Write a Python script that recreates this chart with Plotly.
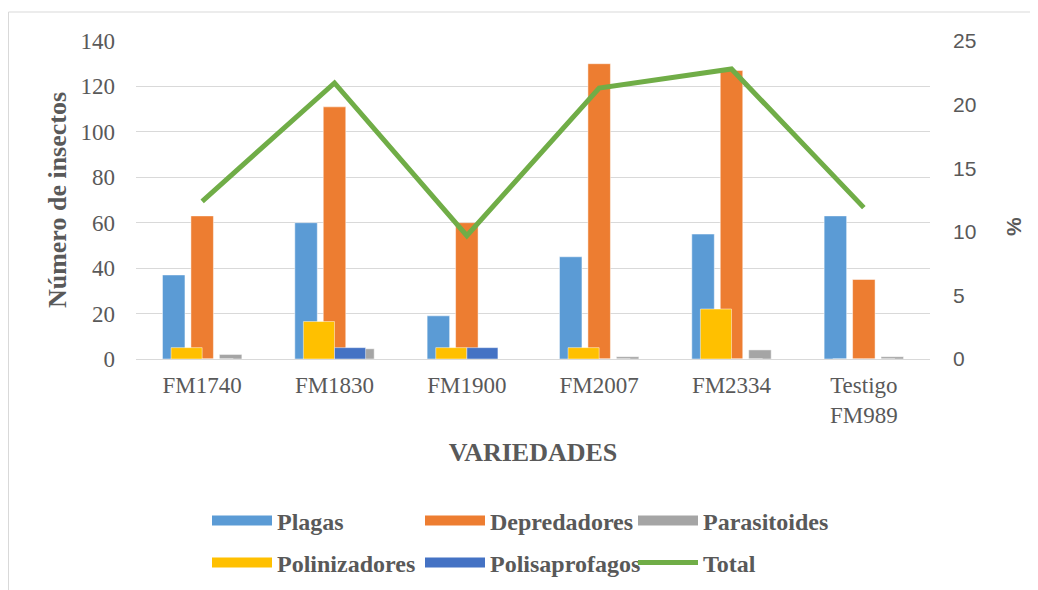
import plotly.graph_objects as go

categorias = ["FM1740", "FM1830", "FM1900", "FM2007", "FM2334", "Testigo<br>FM989"]
plagas = [37, 60, 19, 45, 55, 63]
depredadores = [63, 111, 60, 130, 127, 35]
parasitoides = [2, 4.5, 0, 1, 4, 1]
polinizadores = [5, 16.5, 5, 5, 22, 0]
polisaprofagos = [0, 5, 5, 0, 0, 0]
total_pct = [12.4, 21.7, 9.7, 21.3, 22.8, 11.9]

c_plagas = "#5B9BD5"
c_dep = "#ED7D31"
c_par = "#A5A5A5"
c_pol = "#FFC000"
c_polis = "#4472C4"
c_total = "#70AD47"

serif = "Liberation Serif"
sans = "Liberation Sans"
gray = "#595959"

OFF = 8  # page body margin
W, H = 1038 - OFF, 590 - OFF
L, R, T, B = 136 - OFF, 930 - OFF, 41 - OFF, 359 - OFF

fig = go.Figure()
edge = dict(color="rgba(255,255,255,0.6)", width=0.8)

def bars(name, vals, color, offset, width):
    fig.add_trace(go.Bar(x=categorias, y=vals, name=name, marker=dict(color=color, line=edge),
                         offset=offset, width=width, showlegend=False, legendgroup=name,
                         hoverinfo="x+y+name"))

bars("Plagas", plagas, c_plagas, -0.30, 0.17)
bars("Depredadores", depredadores, c_dep, -0.085, 0.17)
bars("Parasitoides", parasitoides, c_par, 0.13, 0.17)
bars("Polinizadores", polinizadores, c_pol, -0.235, 0.235)
bars("Polisaprofagos", polisaprofagos, c_polis, 0.0, 0.235)

fig.add_trace(go.Scatter(x=categorias, y=total_pct, name="Total", mode="lines",
                         line=dict(color=c_total, width=5), yaxis="y2",
                         legend="legend2", legendrank=3))

# legend entries (rectangular swatches like the original)
for name, color, lg, rank in [("Plagas", c_plagas, "legend", 1), ("Depredadores", c_dep, "legend", 2),
                              ("Parasitoides", c_par, "legend", 3), ("Polinizadores", c_pol, "legend2", 1),
                              ("Polisaprofagos", c_polis, "legend2", 2)]:
    fig.add_trace(go.Scatter(x=[None], y=[None], name=name, mode="lines",
                             line=dict(color=color, width=11), legend=lg, legendrank=rank,
                             legendgroup=name, hoverinfo="skip"))

legfont = dict(family=serif, size=24, color=gray, weight="bold")
pw = R - L
ph = B - T

def px2x(px):
    return (px - OFF - L) / pw

def py2y(py):
    return (B - (py - OFF)) / ph

fig.update_layout(
    width=W, height=H,
    font=dict(family=serif, color=gray),
    margin=dict(l=L, r=W - R, t=T, b=H - B, autoexpand=False),
    paper_bgcolor="white", plot_bgcolor="white",
    barmode="overlay",
    xaxis=dict(type="category", range=[-0.5, 5.5], showgrid=False, showline=True,
               linecolor="#D9D9D9", linewidth=1, ticks="", ticklabelstandoff=5,
               tickfont=dict(family=serif, size=23, color=gray),
               title=dict(text="VARIEDADES", font=dict(family=serif, size=26, color=gray, weight="bold"),
                          standoff=16)),
    yaxis=dict(range=[0, 140], dtick=20, showgrid=True, gridcolor="#D9D9D9", gridwidth=1,
               zeroline=False, showline=False, ticks="", ticklabelstandoff=20,
               tickfont=dict(family=serif, size=23, color=gray),
               title=dict(text="Número de insectos", font=dict(family=serif, size=26, color=gray, weight="bold"),
                          standoff=6)),
    yaxis2=dict(range=[0, 25], dtick=5, overlaying="y", side="right", showgrid=False,
                zeroline=False, showline=False, ticks="", ticklabelstandoff=22,
                tickfont=dict(family=sans, size=21, color=gray)),
    legend=dict(orientation="h", x=px2x(207), y=py2y(521), xanchor="left", yanchor="middle",
                font=legfont, itemwidth=60, entrywidth=138, entrywidthmode="pixels",
                bgcolor="rgba(0,0,0,0)", itemclick=False, itemdoubleclick=False),
    legend2=dict(orientation="h", x=px2x(207), y=py2y(563), xanchor="left", yanchor="middle",
                 font=legfont, itemwidth=60, entrywidth=138, entrywidthmode="pixels",
                 bgcolor="rgba(0,0,0,0)", itemclick=False, itemdoubleclick=False),
    annotations=[dict(text="%", xref="paper", yref="paper", x=px2x(1013), y=py2y(227),
                      showarrow=False, textangle=-90, xanchor="center", yanchor="middle",
                      font=dict(family=sans, size=21, color=gray, weight="bold"))],
    shapes=[dict(type="rect", xref="paper", yref="paper",
                 x0=px2x(8.5), x1=px2x(1060), y0=py2y(620), y1=py2y(12),
                 line=dict(color="#D9D9D9", width=1), fillcolor="rgba(0,0,0,0)", layer="below")],
    showlegend=True,
)

fig.write_html("out.html")
